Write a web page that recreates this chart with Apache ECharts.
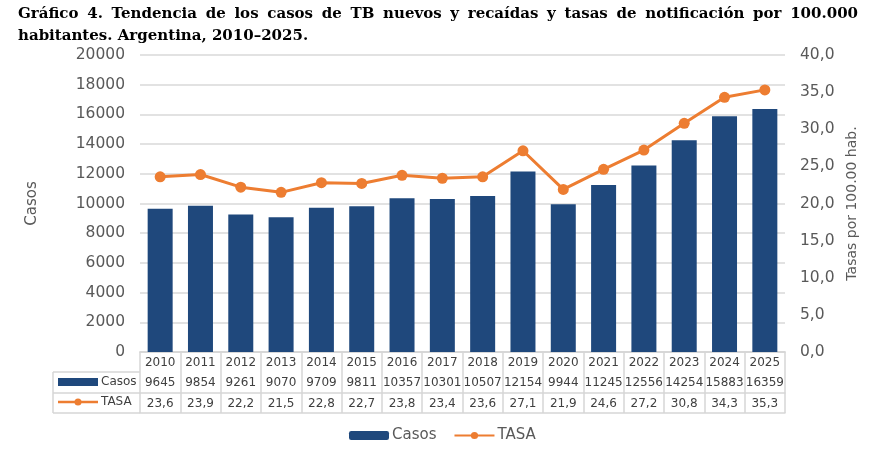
<!DOCTYPE html>
<html>
<head>
<meta charset="utf-8">
<script src="https://cdn.jsdelivr.net/npm/echarts@6/dist/echarts.min.js"></script>
<style>
html,body{margin:0;padding:0;background:#fff;}
#chart{width:878px;height:451px;}
</style>
</head>
<body>
<div id="chart"></div>
<script>
// datos
var anios = ['2010','2011','2012','2013','2014','2015','2016','2017','2018','2019','2020','2021','2022','2023','2024','2025'];
var casos = [9645, 9854, 9261, 9070, 9709, 9811, 10357, 10301, 10507, 12154, 9944, 11245, 12556, 14254, 15883, 16359];
var tasa = [23.6, 23.9, 22.2, 21.5, 22.8, 22.7, 23.8, 23.4, 23.6, 27.1, 21.9, 24.6, 27.2, 30.8, 34.3, 35.3];

var titulo1 = 'Gráfico 4. Tendencia de los casos de TB nuevos y recaídas y tasas de notificación por 100.000';
var titulo2 = 'habitantes. Argentina, 2010\u20132025.';

var gris = '#595959';
var borde = '#d6d6d6';
var azul = '#1f487c';
var naranja = '#ed7d31';
var fuente = 'DejaVu Sans';
var coma = function (v) { return v.toFixed(1).replace('.', ','); };

var chart = echarts.init(document.getElementById('chart'));

// primera línea del título justificada (como en el original)
var fontTitulo = 'bold 15px "DejaVu Serif"';
var ctx = document.createElement('canvas').getContext('2d');
ctx.font = fontTitulo;
var palabras = titulo1.split(' ');
var anchos = palabras.map(function (p) { return ctx.measureText(p).width; });
var total = anchos.reduce(function (a, b) { return a + b; }, 0);
var x0 = 18, x1 = 858;
var hueco = (x1 - x0 - total) / (palabras.length - 1);
var graficosTitulo = [];
var xx = x0;
palabras.forEach(function (p, i) {
    graficosTitulo.push({ type: 'text', x: xx, y: 7, style: { text: p, fill: '#000', font: fontTitulo } });
    xx += anchos[i] + hueco;
});
graficosTitulo.push({ type: 'text', x: x0, y: 29, style: { text: titulo2, fill: '#000', font: fontTitulo } });

// eje x extra para las filas de la tabla
function filaTabla(datos, offset, mostrar) {
    return {
        type: 'category',
        data: datos,
        position: 'bottom',
        offset: offset,
        axisLine: { show: true, lineStyle: { color: borde, width: 1.5 } },
        axisTick: { show: false },
        axisLabel: { show: mostrar, interval: 0, margin: 5, color: '#404040', fontFamily: fuente, fontSize: 12 },
        splitLine: { show: false }
    };
}

var option = {
    animation: false,
    grid: { left: 140, right: 93, top: 55, bottom: 99, containLabel: false },
    legend: {
        left: 349,
        top: 428,
        padding: 0,
        itemWidth: 40,
        itemHeight: 9,
        itemGap: 17,
        data: ['Casos', 'TASA'],
        textStyle: { color: gris, fontFamily: fuente, fontSize: 15, padding: [0, 0, 0, -2] }
    },
    xAxis: [
        {
            type: 'category',
            data: anios,
            position: 'bottom',
            axisLine: { show: true, lineStyle: { color: borde, width: 1.5 } },
            axisTick: { show: true, inside: false, length: 61, lineStyle: { color: borde, width: 1.5 } },
            axisLabel: { interval: 0, margin: 5, color: '#404040', fontFamily: fuente, fontSize: 12 }
        },
        filaTabla(casos.map(String), 20, true),
        filaTabla(tasa.map(coma), 41, true),
        filaTabla(anios, 61, false)
    ],
    yAxis: [
        {
            type: 'value',
            min: 0,
            max: 20000,
            interval: 2000,
            name: 'Casos',
            nameLocation: 'middle',
            nameGap: 100,
            nameTextStyle: { color: gris, fontFamily: fuente, fontSize: 15 },
            axisLine: { show: false },
            axisTick: { show: false },
            axisLabel: { color: gris, fontFamily: fuente, fontSize: 15.5, margin: 15, formatter: function (v) { return String(v); } },
            splitLine: { lineStyle: { color: '#d9d9d9', width: 1.5 } }
        },
        {
            type: 'value',
            min: 0,
            max: 40,
            interval: 5,
            name: 'Tasas por 100.00 hab.',
            nameLocation: 'middle',
            nameGap: 53,
            nameTextStyle: { color: gris, fontFamily: fuente, fontSize: 14 },
            axisLine: { show: false },
            axisTick: { show: false },
            axisLabel: { color: gris, fontFamily: fuente, fontSize: 15.5, margin: 15, formatter: coma },
            splitLine: { show: false }
        }
    ],
    series: [
        {
            name: 'Casos',
            type: 'bar',
            xAxisIndex: 0,
            yAxisIndex: 0,
            data: casos,
            barWidth: '62%',
            itemStyle: { color: azul }
        },
        {
            name: 'TASA',
            type: 'line',
            xAxisIndex: 0,
            yAxisIndex: 1,
            data: tasa,
            symbol: 'circle',
            symbolSize: 11,
            lineStyle: { color: naranja, width: 3 },
            itemStyle: { color: naranja }
        }
    ],
    graphic: graficosTitulo.concat([
        // columna de leyenda de la tabla
        { type: 'line', shape: { x1: 53, y1: 372, x2: 140, y2: 372 }, style: { stroke: borde, lineWidth: 1.5 } },
        { type: 'line', shape: { x1: 53, y1: 393, x2: 140, y2: 393 }, style: { stroke: borde, lineWidth: 1.5 } },
        { type: 'line', shape: { x1: 53, y1: 413, x2: 140, y2: 413 }, style: { stroke: borde, lineWidth: 1.5 } },
        { type: 'line', shape: { x1: 53, y1: 372, x2: 53, y2: 413 }, style: { stroke: borde, lineWidth: 1.5 } },
        { type: 'rect', shape: { x: 58, y: 378, width: 40, height: 8 }, style: { fill: azul } },
        { type: 'text', x: 101, y: 376, style: { text: 'Casos', fill: '#404040', font: '12px "DejaVu Sans"' } },
        { type: 'line', shape: { x1: 58, y1: 402, x2: 98, y2: 402 }, style: { stroke: naranja, lineWidth: 2.5 } },
        { type: 'circle', shape: { cx: 78, cy: 402, r: 3.5 }, style: { fill: naranja } },
        { type: 'text', x: 101, y: 396, style: { text: 'TASA', fill: '#404040', font: '12px "DejaVu Sans"' } }
    ])
};
chart.setOption(option);
</script>
</body>
</html>
